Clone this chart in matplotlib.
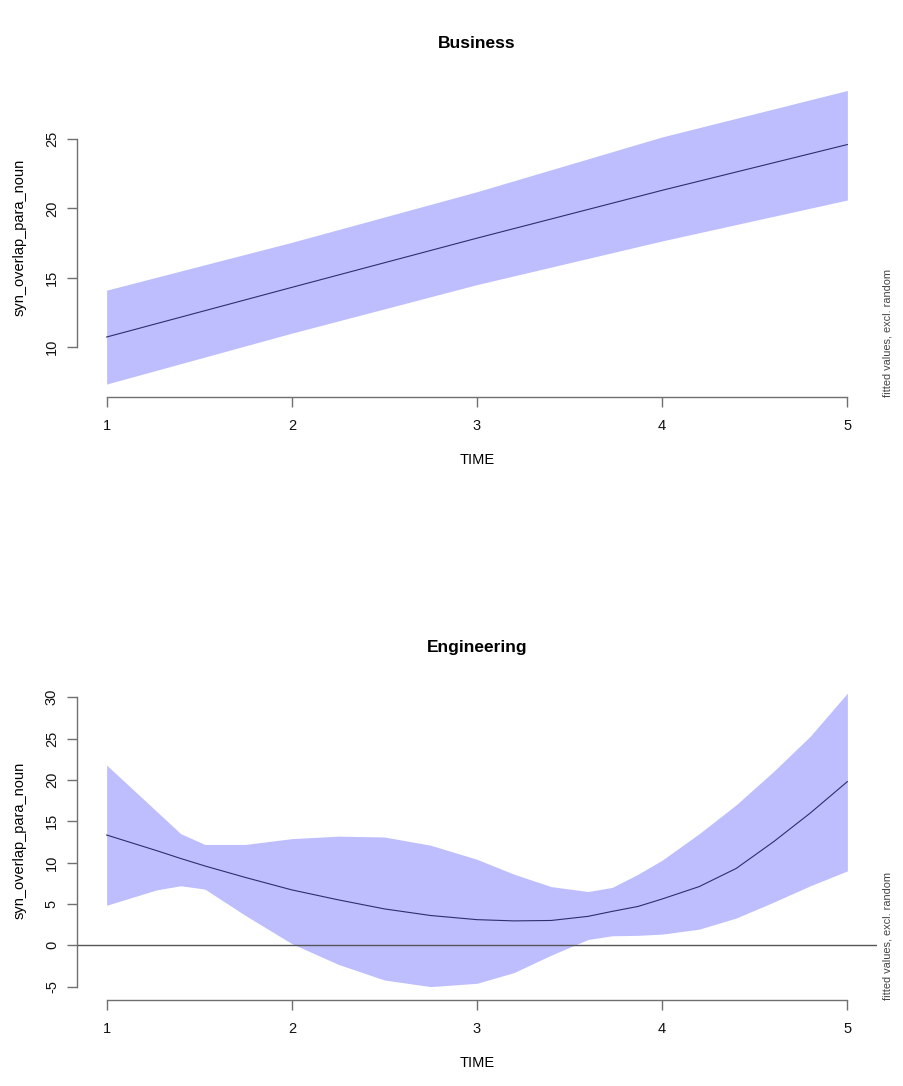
import matplotlib
matplotlib.use("Agg")
import matplotlib.pyplot as plt
import numpy as np

plt.rcParams['font.family'] = ['Liberation Sans', 'DejaVu Sans']

# ---- data ----
titles = ["Business", "Engineering"]
xlabel = "TIME"
ylabel = "syn_overlap_para_noun"
side_note = "fitted values, excl. random"
xticks = [1, 2, 3, 4, 5]

bus_time = [1, 2, 3, 4, 5]
bus_fit = [10.72, 14.3, 17.85, 21.3, 24.6]
bus_upper = [14.1, 17.55, 21.2, 25.15, 28.5]
bus_lower = [7.33, 11.0, 14.5, 17.65, 20.6]
bus_yticks = [10, 15, 20, 25]

eng_time = [1.0, 1.27, 1.4, 1.53, 1.75, 2.0, 2.25, 2.5, 2.75, 3.0, 3.2,
            3.4, 3.6, 3.73, 3.87, 4.0, 4.2, 4.4, 4.6, 4.8, 5.0]
eng_fit = [13.34, 11.45, 10.5, 9.6, 8.2, 6.7, 5.5, 4.4, 3.6, 3.1, 2.95,
           3.0, 3.5, 4.1, 4.7, 5.6, 7.1, 9.3, 12.5, 16.0, 19.8]
eng_upper = [21.8, 16.2, 13.5, 12.2, 12.2, 12.9, 13.2, 13.1, 12.1, 10.4, 8.6,
             7.1, 6.5, 7.0, 8.6, 10.3, 13.5, 17.0, 21.0, 25.3, 30.5]
eng_lower = [4.84, 6.7, 7.2, 6.8, 3.6, 0.2, -2.3, -4.2, -5.0, -4.6, -3.3,
             -1.2, 0.7, 1.15, 1.2, 1.35, 1.95, 3.3, 5.2, 7.2, 9.0]
eng_yticks = [-5, 0, 5, 10, 15, 20, 25, 30]

# ---- style ----
W, H = 904, 1086
fig = plt.figure(figsize=(W / 100, H / 100), dpi=100)
fill_col = '#BEBEFF'
line_col = '#2e2e6e'
axis_col = '#707070'
fs = 10.5


def px_axes(x0, y0, x1, y1):
    return fig.add_axes([x0 / W, 1 - y1 / H, (x1 - x0) / W, (y1 - y0) / H])


def panel(ax, t, fit, lo, hi, yticks, title, ylim, zero=False):
    ax.fill_between(t, lo, hi, color=fill_col, lw=0)
    if zero:
        ax.axhline(0, color='#555555', lw=1.0)
    ax.plot(t, fit, color=line_col, lw=0.8)
    ax.set_xlim(0.84, 5.16)
    ax.set_ylim(*ylim)
    for s in ['top', 'right']:
        ax.spines[s].set_visible(False)
    for s in ['left', 'bottom']:
        ax.spines[s].set_color(axis_col)
        ax.spines[s].set_linewidth(1.0)
    ax.spines['bottom'].set_bounds(xticks[0], xticks[-1])
    ax.spines['left'].set_bounds(yticks[0], yticks[-1])
    ax.set_xticks(xticks)
    ax.set_xticklabels([str(v) for v in xticks])
    ax.set_yticks(yticks)
    ax.set_yticklabels([str(v) for v in yticks], rotation=90, va='center')
    ax.tick_params(axis='both', length=7, width=1.0, color=axis_col,
                   labelsize=fs, labelcolor='#111111')
    ax.tick_params(axis='x', pad=9)
    ax.tick_params(axis='y', pad=6)
    ax.set_title(title, fontsize=12.5, fontweight='bold', pad=21)
    ax.set_xlabel(xlabel, fontsize=fs, va='center')
    ax.xaxis.set_label_coords(0.5, -63 / 320)
    ax.set_ylabel(ylabel, fontsize=fs, va='center')
    ax.yaxis.set_label_coords(-57 / 800, 0.5)
    ax.text(810 / 800, 0, side_note, transform=ax.transAxes,
            rotation=90, ha='center', va='bottom', fontsize=7.9,
            color='#444444')
    ax.patch.set_alpha(0)


ax1 = px_axes(77, 77, 877, 397)
panel(ax1, bus_time, bus_fit, bus_lower, bus_upper, bus_yticks,
      titles[0], (6.395, 29.47))

ax2 = px_axes(77, 681, 877, 1000)
panel(ax2, eng_time, eng_fit, eng_lower, eng_upper, eng_yticks,
      titles[1], (-6.62, 31.97), zero=True)

fig.savefig('out.png', dpi=100, facecolor='white')
